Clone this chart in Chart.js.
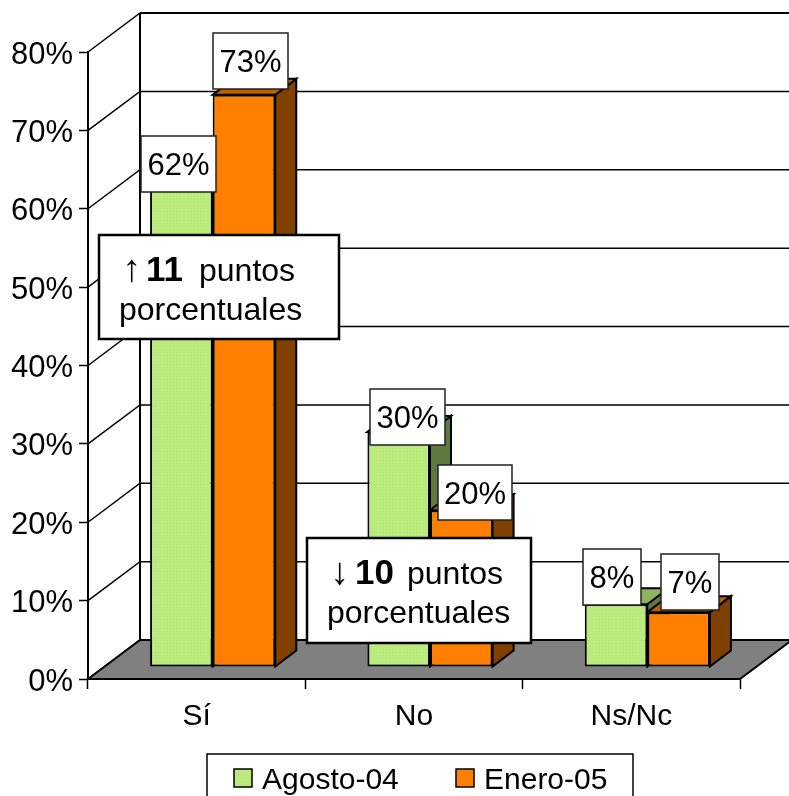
<!DOCTYPE html>
<html>
<head>
<meta charset="utf-8">
<style>
  html, body { margin: 0; padding: 0; background: #fff; overflow: hidden; }
  canvas { display: block; }
</style>
<script src="https://cdn.jsdelivr.net/npm/chart.js@4"></script>
</head>
<body>
<canvas id="surveyChart" width="789" height="796"></canvas>
<script>
// datos del grafico
var categories = ['Sí', 'No', 'Ns/Nc'];
var seriesNames = ['Agosto-04', 'Enero-05'];
var agostoValues = [62, 30, 8];
var eneroValues = [73, 20, 7];
var noteFirstLines = [['↑', '11', 'puntos'], ['↓', '10', 'puntos']];
var noteSecondLine = 'porcentuales';

// geometria de la perspectiva 3D
var WALL_DX = 52, WALL_DY = -39;   // pared del fondo respecto al eje frontal
var BAR_DX = 16, BAR_DY = -12;     // cara frontal de las barras
var SIDE_DX = 21, SIDE_DY = -16;   // profundidad de las barras
var FONT = '"Liberation Sans", Arial, sans-serif';

// caja de cada etiqueta: [left, top, width, height], por serie y categoria
var labelBoxes = [
    [[141, 136, 75, 56], [370, 389, 75, 56], [583, 549, 58, 56]],
    [[213, 33, 75, 56], [438, 465, 74, 55], [661, 554, 58, 56]]
];
var noteBoxes = [
    { x: 99, y: 235, w: 240, h: 104, arrowX: 122, numX: 146, restX: 199, base1: 281, base2: 320, textX: 119 },
    { x: 307, y: 538, w: 224, h: 105, arrowX: 330, numX: 355, restX: 407, base1: 584, base2: 623, textX: 327 }
];
var legendSlots = [{ box: 234, text: 262 }, { box: 456, text: 484 }];

// verde con trama fina, como el relleno del original
function dottedGreen() {
    var tile = document.createElement('canvas');
    tile.width = 3; tile.height = 3;
    var t = tile.getContext('2d');
    t.fillStyle = '#BDEC7E';
    t.fillRect(0, 0, 3, 3);
    t.fillStyle = '#B2E070';
    t.fillRect(1, 1, 1, 1);
    return t.createPattern(tile, 'repeat');
}

var sideColors = ['#5E7A3F', '#804000'];
var topColors = ['#8EB25E', '#BF6000'];

function poly(ctx, pts, fill) {
    ctx.beginPath();
    pts.forEach(function(p, i) { i ? ctx.lineTo(p[0], p[1]) : ctx.moveTo(p[0], p[1]); });
    ctx.closePath();
    ctx.fillStyle = fill;
    ctx.fill();
    ctx.stroke();
}

var perspective = {
    id: 'perspective',
    beforeDatasetsDraw: function(chart) {
        var ctx = chart.ctx, y = chart.scales.y, area = chart.chartArea;
        var x0 = area.left, x1 = area.right, zero = y.getPixelForValue(0);

        ctx.save();
        ctx.strokeStyle = '#000';
        ctx.lineWidth = 1.5;
        y.ticks.forEach(function(t) {
            var p = y.getPixelForValue(t.value);
            ctx.beginPath();
            ctx.moveTo(x0, p);
            ctx.lineTo(x0 + WALL_DX, p + WALL_DY);
            ctx.lineTo(x1 + WALL_DX, p + WALL_DY);
            ctx.stroke();
        });
        ctx.lineWidth = 2;
        ctx.beginPath();
        ctx.moveTo(x0 + WALL_DX, y.top + WALL_DY);
        ctx.lineTo(x0 + WALL_DX, zero + WALL_DY);
        ctx.moveTo(x0 + WALL_DX, y.top + WALL_DY);
        ctx.lineTo(x1 + WALL_DX, y.top + WALL_DY);
        ctx.stroke();
        poly(ctx, [[x0, zero], [x0 + WALL_DX, zero + WALL_DY], [x1 + WALL_DX, zero + WALL_DY], [x1, zero]], '#808080');

        // caras laterales y superiores, despues las frontales
        ctx.translate(BAR_DX, BAR_DY);
        for (var m = 0; m < chart.data.datasets.length; m++) {
            chart.getDatasetMeta(m).data.forEach(function(bar) {
                var l = bar.x - bar.width / 2, r = bar.x + bar.width / 2;
                poly(ctx, [[r, bar.y], [r + SIDE_DX, bar.y + SIDE_DY], [r + SIDE_DX, bar.base + SIDE_DY], [r, bar.base]], sideColors[m]);
                poly(ctx, [[l, bar.y], [l + SIDE_DX, bar.y + SIDE_DY], [r + SIDE_DX, bar.y + SIDE_DY], [r, bar.y]], topColors[m]);
            });
        }
    },
    afterDatasetsDraw: function(chart) {
        chart.ctx.restore();
    },
    afterDraw: function(chart) {
        var ctx = chart.ctx;
        ctx.save();
        ctx.textBaseline = 'alphabetic';

        // etiquetas de valor
        [agostoValues, eneroValues].forEach(function(values, s) {
            values.forEach(function(v, i) {
                var b = labelBoxes[s][i];
                ctx.fillStyle = '#fff';
                ctx.strokeStyle = '#222';
                ctx.lineWidth = 1.5;
                ctx.fillRect(b[0], b[1], b[2], b[3]);
                ctx.strokeRect(b[0], b[1], b[2], b[3]);
                ctx.fillStyle = '#000';
                ctx.font = '31px ' + FONT;
                ctx.textAlign = 'center';
                ctx.fillText(v + '%', b[0] + b[2] / 2, b[1] + b[3] / 2 + 11);
            });
        });

        // recuadros de puntos porcentuales
        ctx.textAlign = 'left';
        noteBoxes.forEach(function(n, i) {
            var line = noteFirstLines[i];
            ctx.fillStyle = '#fff';
            ctx.strokeStyle = '#000';
            ctx.lineWidth = 2.5;
            ctx.fillRect(n.x, n.y, n.w, n.h);
            ctx.strokeRect(n.x, n.y, n.w, n.h);
            ctx.fillStyle = '#000';
            ctx.font = '38px ' + FONT;
            ctx.fillText(line[0], n.arrowX, n.base1);
            ctx.font = 'bold 35px ' + FONT;
            ctx.fillText(line[1], n.numX, n.base1);
            ctx.font = '32px ' + FONT;
            ctx.fillText(line[2], n.restX, n.base1);
            ctx.fillText(noteSecondLine, n.textX, n.base2);
        });

        // leyenda en su recuadro
        ctx.strokeStyle = '#000';
        ctx.lineWidth = 1.5;
        ctx.strokeRect(207, 754, 426, 50);
        ctx.font = '30px ' + FONT;
        chart.data.datasets.forEach(function(ds, i) {
            var slot = legendSlots[i];
            ctx.fillStyle = ds.backgroundColor;
            ctx.fillRect(slot.box, 769, 18, 18);
            ctx.strokeRect(slot.box, 769, 18, 18);
            ctx.fillStyle = '#000';
            ctx.fillText(ds.label, slot.text, 789);
        });
        ctx.restore();
    }
};

var ctx = document.getElementById('surveyChart').getContext('2d');
var chart = new Chart(ctx, {
    type: 'bar',
    data: {
        labels: categories,
        datasets: [
            { label: seriesNames[0], data: agostoValues, backgroundColor: dottedGreen() },
            { label: seriesNames[1], data: eneroValues, backgroundColor: '#FF8000' }
        ]
    },
    plugins: [perspective],
    options: {
        responsive: false,
        animation: false,
        layout: { padding: { top: 52, right: 49, left: 0, bottom: 0 } },
        datasets: {
            bar: {
                categoryPercentage: 0.576,
                barPercentage: 1,
                borderColor: '#000',
                borderWidth: 2,
                borderSkipped: false
            }
        },
        scales: {
            x: {
                grid: { drawOnChartArea: false, color: '#000', tickLength: 10, tickWidth: 1.5 },
                border: { color: '#000', width: 2 },
                ticks: { color: '#000', font: { family: FONT, size: 30 }, padding: 10, maxRotation: 0 },
                afterFit: function(s) { s.height = 117; }
            },
            y: {
                min: 0,
                max: 80,
                grid: { drawOnChartArea: false, color: '#000', tickLength: 9, tickWidth: 1.5 },
                border: { color: '#000', width: 2 },
                ticks: {
                    stepSize: 10,
                    color: '#000',
                    font: { family: FONT, size: 31 },
                    padding: 6,
                    labelOffset: 3,
                    callback: function(v) { return v + '%'; }
                },
                afterFit: function(s) { s.width = 88; }
            }
        },
        plugins: {
            tooltip: { enabled: false },
            legend: { display: false }
        }
    }
});
</script>
</body>
</html>
